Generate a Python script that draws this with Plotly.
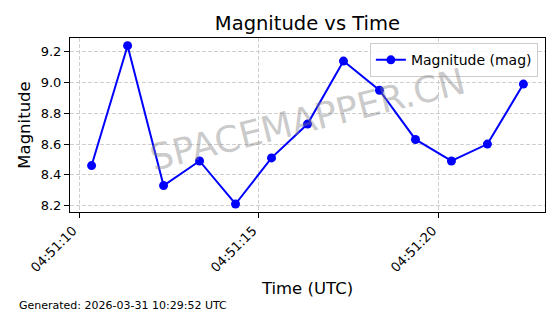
import plotly.graph_objects as go

times = ["2026-03-31 04:51:10.35", "2026-03-31 04:51:11.35", "2026-03-31 04:51:12.35",
         "2026-03-31 04:51:13.35", "2026-03-31 04:51:14.35", "2026-03-31 04:51:15.35",
         "2026-03-31 04:51:16.35", "2026-03-31 04:51:17.35", "2026-03-31 04:51:18.35",
         "2026-03-31 04:51:19.35", "2026-03-31 04:51:20.35", "2026-03-31 04:51:21.35",
         "2026-03-31 04:51:22.35"]
magnitude = [8.46, 9.24, 8.33, 8.49, 8.21, 8.51, 8.73, 9.14, 8.95, 8.63, 8.49, 8.60, 8.99]
tick_vals = ["2026-03-31 04:51:10", "2026-03-31 04:51:15", "2026-03-31 04:51:20"]
tick_text = ["04:51:10", "04:51:15", "04:51:20"]
y_ticks = [8.2, 8.4, 8.6, 8.8, 9.0, 9.2]

FONT = "DejaVu Sans"

fig = go.Figure()
fig.add_trace(go.Scatter(
    x=times, y=magnitude, mode="lines+markers", name="Magnitude (mag)",
    line=dict(color="#0000ff", width=2),
    marker=dict(color="#0000ff", size=9),
))

fig.update_layout(
    width=560, height=314,
    margin=dict(l=70, r=15, t=38, b=102),
    paper_bgcolor="white", plot_bgcolor="white",
    font=dict(family=FONT, color="black", size=13),
    title=dict(text="Magnitude vs Time", x=0.549, xanchor="center", y=0.925, yanchor="middle",
               font=dict(size=19.5, family=FONT)),
    showlegend=True,
    legend=dict(x=0.985, y=0.97, xanchor="right", yanchor="top",
                bgcolor="rgba(255,255,255,0.8)", bordercolor="#cccccc", borderwidth=1,
                font=dict(size=14, family=FONT), tracegroupgap=0),
    xaxis=dict(
        type="date",
        range=["2026-03-31 04:51:09.75", "2026-03-31 04:51:22.95"],
        tickvals=tick_vals, ticktext=tick_text, tickangle=-45,
        ticklabelshift=-6,
        showgrid=True, gridcolor="#cfcfcf", griddash="4px,2px", gridwidth=1,
        showline=True, linecolor="black", linewidth=1, mirror=True,
        ticks="outside", ticklen=5, tickcolor="black",
        tickfont=dict(size=13, family=FONT),
        title=dict(text="Time (UTC)", font=dict(size=16.5, family=FONT), standoff=8),
        zeroline=False,
    ),
    yaxis=dict(
        range=[8.158, 9.29],
        tickvals=y_ticks, ticktext=[f"{v:.1f}" for v in y_ticks],
        showgrid=True, gridcolor="#cfcfcf", griddash="4px,2px", gridwidth=1,
        showline=True, linecolor="black", linewidth=1, mirror=True,
        ticks="outside", ticklen=5, tickcolor="black",
        tickfont=dict(size=13, family=FONT),
        title=dict(text="Magnitude", font=dict(size=16.5, family=FONT), standoff=5),
        zeroline=False,
    ),
    annotations=[
        dict(text="SPACEMAPPER.CN", xref="paper", yref="paper", x=0.5, y=0.53,
             showarrow=False, textangle=-14,
             font=dict(size=36, family=FONT, color="rgba(128,128,128,0.42)")),
        dict(text="Generated: 2026-03-31 10:29:52 UTC", xref="paper", yref="paper",
             x=(17 - 70) / 475, y=(212 - 305) / 174, xanchor="left", yanchor="middle",
             showarrow=False, font=dict(size=11, family=FONT)),
    ],
)

fig.write_html("out.html")
